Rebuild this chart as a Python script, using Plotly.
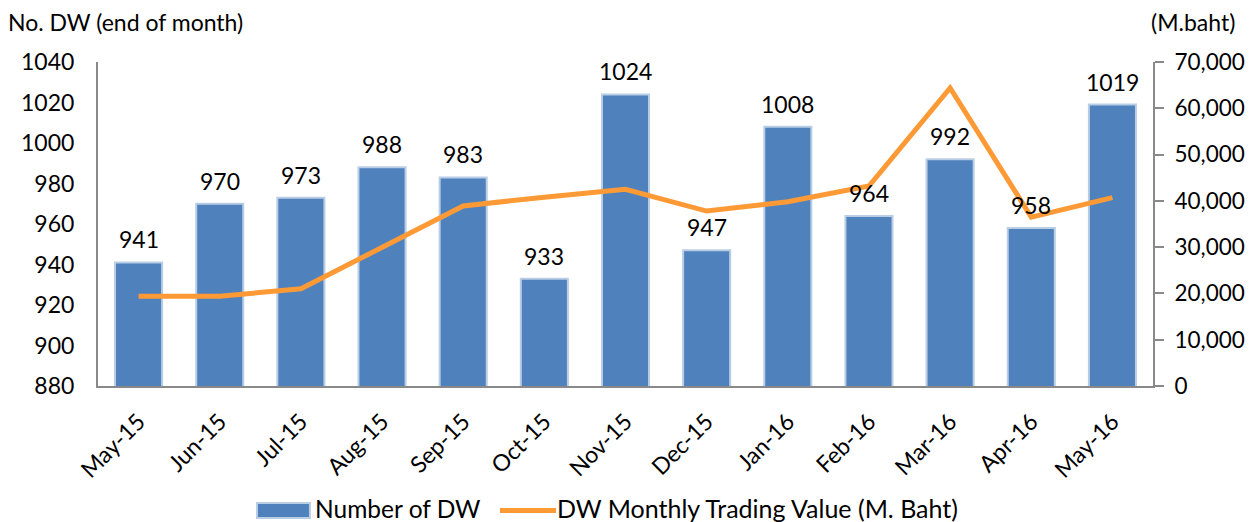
import plotly.graph_objects as go

months = ["May-15", "Jun-15", "Jul-15", "Aug-15", "Sep-15", "Oct-15", "Nov-15",
          "Dec-15", "Jan-16", "Feb-16", "Mar-16", "Apr-16", "May-16"]
num_dw = [941, 970, 973, 988, 983, 933, 1024, 947, 1008, 964, 992, 958, 1019]
trading_value = [19400, 19400, 21000, 30000, 38900, 40800, 42500, 37800, 39800,
                 43200, 64400, 36500, 40700]

FONT = "Lato, 'Open Sans', sans-serif"
BAR_COLOR = "#4f81bd"
BAR_EDGE = "#b9cde5"
LINE_COLOR = "#fd9a36"

fig = go.Figure()
fig.add_trace(go.Bar(
    x=months, y=num_dw, name="Number of DW",
    marker=dict(color=BAR_COLOR, line=dict(color=BAR_EDGE, width=2)),
    width=0.58,
))
fig.add_trace(go.Scatter(
    x=months, y=trading_value, name="DW Monthly Trading Value (M. Baht)",
    mode="lines", line=dict(color=LINE_COLOR, width=5), yaxis="y2",
))

label_annotations = [
    dict(x=m, y=v, xref="x", yref="y", text=str(v), showarrow=False,
         yshift=23, font=dict(size=23, color="#000000"))
    for m, v in zip(months, num_dw)
]

# manual legend (wide rectangle + line, as in the reference)
legend_shapes = [
    dict(type="rect", xref="paper", yref="paper", x0=0.1507, x1=0.2009,
         y0=-0.4074, y1=-0.3611, fillcolor=BAR_COLOR, line=dict(color=BAR_EDGE, width=2)),
    dict(type="line", xref="paper", yref="paper", x0=0.3810, x1=0.4341,
         y0=-0.3843, y1=-0.3843, line=dict(color=LINE_COLOR, width=5)),
]
legend_texts = [
    dict(text="Number of DW", x=0.2038, y=-0.3780, xref="paper", yref="paper",
         showarrow=False, xanchor="left", yanchor="middle", font=dict(size=24.5)),
    dict(text="DW Monthly Trading Value (M. Baht)", x=0.4332, y=-0.3780, xref="paper",
         yref="paper", showarrow=False, xanchor="left", yanchor="middle", font=dict(size=25)),
]

fig.update_layout(
    width=1254, height=522,
    margin=dict(l=98, r=101, t=62, b=136),
    paper_bgcolor="white", plot_bgcolor="white",
    font=dict(family=FONT, size=23, color="#000000"),
    showlegend=False,
    xaxis=dict(tickangle=-45, showline=True, linecolor="#898989", linewidth=2,
               ticks="", tickfont=dict(size=23), automargin=False,
               ticklabelstandoff=11),
    yaxis=dict(range=[880, 1040], dtick=20, showline=True, linecolor="#898989",
               linewidth=2, showgrid=False, ticks="", zeroline=False,
               tickfont=dict(size=23), automargin=False, ticklabelstandoff=17),
    yaxis2=dict(range=[0, 70000], dtick=10000, tickformat=",", overlaying="y",
                side="right", showline=True, linecolor="#898989", linewidth=2,
                showgrid=False, ticks="outside", ticklen=9, tickcolor="#898989",
                tickwidth=2, zeroline=False, tickfont=dict(size=22.5), automargin=False,
                ticklabelstandoff=6),
    shapes=legend_shapes,
    annotations=label_annotations + legend_texts + [
        dict(text="No. DW (end of month)", x=0, y=1, xref="paper", yref="paper",
             xshift=-92, yshift=40, showarrow=False, xanchor="left", yanchor="middle",
             font=dict(size=23)),
        dict(text="(M.baht)", x=1, y=1, xref="paper", yref="paper",
             xshift=-4, yshift=40, showarrow=False, xanchor="left", yanchor="middle",
             font=dict(size=23)),
    ],
)

fig.write_html("out.html",
               config={"displayModeBar": False},
               post_script="document.body.style.margin='0';document.body.style.overflow='hidden';")
